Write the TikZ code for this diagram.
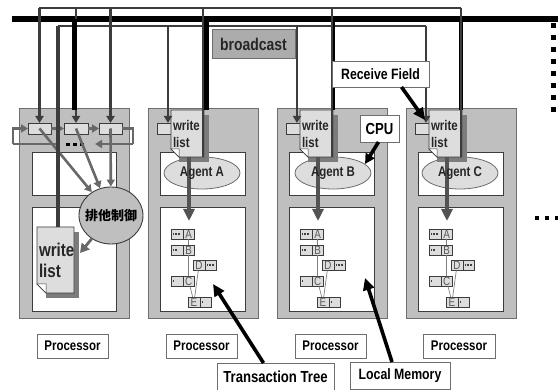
\documentclass[tikz,border=0pt]{standalone}
\usepackage{fontspec}
\setmainfont[FakeStretch=.82]{Liberation Sans}
\newfontfamily\cjkfont{Noto Sans CJK JP}
\usetikzlibrary{arrows.meta,shapes.geometric}
\definecolor{procgray}{HTML}{BFBFBF}
\definecolor{edgegray}{HTML}{6E6E6E}
\definecolor{wiregray}{HTML}{3C3C3C}
\definecolor{flowgray}{HTML}{686868}
\definecolor{pagegray}{HTML}{DDDDDD}
\definecolor{shadegray}{HTML}{7C7C7C}
\tikzset{
  procbox/.style={draw=edgegray,fill=procgray,line width=1pt},
  membox/.style={draw=wiregray,fill=white,line width=.9pt},
  fieldbox/.style={draw=wiregray,fill=pagegray,line width=.8pt},
  labelbox/.style={draw=edgegray,fill=white,line width=.9pt,font={\fontsize{14}{16}\selectfont\bfseries}},
  pagetext/.style={align=left,text=black!85,font={\fontsize{14}{17}\selectfont\bfseries}},
  agentbox/.style={ellipse,draw=edgegray,fill=pagegray,line width=.8pt,inner sep=0pt,minimum width=76pt,minimum height=32pt},
  wire/.style={draw=wiregray,line width=2.3pt},
  thickwire/.style={draw=black,line width=4.5pt},
  tipin/.style={-{Triangle[length=7pt,width=8pt]}},
  flow/.style={draw=flowgray,line width=2.4pt,-{Triangle[length=7pt,width=8pt]}},
  feed/.style={draw=flowgray!80!black,line width=3.8pt,-{Triangle[length=12pt,width=11pt]}},
  callout/.style={draw=black,line width=3.6pt,-{Triangle[length=12pt,width=11pt]}},
  treeline/.style={draw=gray,line width=.7pt},
  treecell/.style={draw=wiregray,fill=pagegray,line width=.7pt,text=black!65,font={\fontsize{12}{12}\selectfont}}
}
\newcommand{\rect}[7][]{
  \node [inner sep=0pt,outer sep=0pt,minimum width={((#5)-(#3))*1pt},minimum height={((#6)-(#4))*1pt},#1] (#2) at ({((#3)+(#5))/2},{((#4)+(#6))/2}) {#7};
}
\newcommand{\wlist}[8]{
  \fill [shadegray] ({#2+#6},{#3+#7}) rectangle ({#4+#7},{#5+#7});
  \draw [draw=wiregray,fill=pagegray,line width=.8pt] (#2,#3) -- (#4,#3) -- (#4,#5) -- ({#2+#6},#5) -- (#2,{#5-#6}) -- cycle;
  \draw [draw=wiregray,fill=white,line width=.5pt] (#2,{#5-#6}) -- ({#2+#6},{#5-#6}) -- ({#2+#6},#5) -- cycle;
  \rect[pagetext,#8]{#1}{#2}{#3}{#4}{#5}{write\\list}
}
\newcommand{\cellL}[5]{
  \rect[treecell]{#1s}{#2}{#3}{#2+12}{#3+10.5}{}
  \rect[treecell]{#1}{#2+12}{#3}{#2+23.5}{#3+10.5}{#4}
  \foreach \k in {1,...,#5}{\fill [black!75] ({#2+2.7*\k-1},{#3+4.5}) rectangle ++(1.7,1.7);}
}
\newcommand{\cellR}[5]{
  \rect[treecell]{#1s}{#2+12}{#3}{#2+23.5}{#3+10.5}{}
  \rect[treecell]{#1}{#2}{#3}{#2+12}{#3+10.5}{#4}
  \foreach \k in {1,...,#5}{\fill [black!75] ({#2+11+2.7*\k},{#3+4.5}) rectangle ++(1.7,1.7);}
}
\begin{document}
\begin{tikzpicture}[x=1pt,y=-1pt]
  \useasboundingbox (0,0) rectangle (558,390);
  \coordinate (upL) at (39,8);
  \coordinate (upR) at (461,8);
  \coordinate (midL) at (58,26);
  \coordinate (midR) at (426,26);
  \coordinate (busL) at (12,19);
  \coordinate (busR) at (558,19);
  \rect[procbox]{proc0}{19}{109}{129}{319}{}
  \rect[membox]{cpu0}{32}{152}{116}{195}{}
  \rect[membox]{mem0}{32}{207}{116}{311}{}
  \foreach \n/\dx/\ax in {1/0/202,2/129/333,3/258/460}{
    \begin{scope}[xshift=\dx pt]
      \rect[procbox]{proc\n}{148}{109}{258}{319}{}
      \rect[membox]{cpu\n}{160}{152}{245}{195}{}
      \rect[membox]{mem\n}{160}{207}{245}{311}{}
      \rect[fieldbox]{field\n}{157}{123}{171}{134}{}
      \cellL{A\n}{171}{229}{A}{3}
      \cellL{B\n}{171}{245}{B}{2}
      \cellR{D\n}{193}{260}{D}{3}
      \cellL{C\n}{171}{276}{C}{1}
      \cellR{E\n}{188}{297}{E}{1}
      \draw [treeline] (A\n) -- (B\n) -- (C\n);
      \draw [treeline] (C\n) -- (E\n);
      \draw [treeline] (D\n) -- (E\n);
      \coordinate (tip\n) at (189,221);
    \end{scope}
    \node [agentbox] (agent\n) at (\ax,173) {};
    \begin{scope}[xshift=\dx pt]
      \wlist{page\n}{171}{110}{204}{157}{8}{5}{text width=29pt}
      \draw [feed] (tip\n |- page\n.south) -- (tip\n);
    \end{scope}
    \path (agent\n) node [font={\fontsize{14}{15}\selectfont\bfseries},text=black!85] (name\n) {Agent \ifcase\n\or A\or B\or C\fi};
  }
  \draw [thickwire,line width=6pt] (busL) -- (busR);
  \draw [wire] (upL) -- (upR);
  \draw [wire,line width=2.8pt] (midL) -- (midR);
  \foreach \k/\xa/\xb in {a/28/51,b/64/88,c/99/122}{
    \rect[fieldbox]{recv\k}{\xa}{123}{\xb}{134}{}
    \draw [wire,tipin] (recv\k.north |- upL) -- (recv\k.north);
  }
  \draw [thickwire] (74.5,19) -- (74.5,110);
  \draw [flow] (recva) -- (recvb);
  \draw [flow] (recvb) -- (recvc);
  \coordinate (loopL) at (13,144);
  \coordinate (loopR) at (133,144);
  \coordinate (loopM) at (58,144);
  \coordinate (loopT) at (95,144);
  \draw [flow,-] (loopM) -- (loopL);
  \draw [flow] (loopL) |- (recva.west);
  \draw [flow,-] (recvc.east) -| (loopR);
  \draw [flow] (loopR) -- (loopT);
  \foreach \d in {0,7,14}{\fill (66+\d,143) rectangle ++(3.5,3.5);}
  \node [ellipse,draw=wiregray,fill=procgray,line width=.9pt,minimum width=64pt,minimum height=57pt,inner sep=0pt] (excl) at (111,215.5) {};
  \foreach \k in {a,b,c}{\draw [flow,line width=2.6pt] (recv\k.center) -- (excl);}
  \wlist{pageBig}{37}{227}{74}{293}{9}{5}{text width=33pt,font={\fontsize{18.5}{21}\selectfont\bfseries}}
  \coordinate (pageTip) at (80,253);
  \draw [flow,line width=2.8pt,-{Triangle[length=9pt,width=10pt]}] (excl) -- (pageTip);
  \draw [wire,line width=3.4pt] (midL) -- (midL |- pageBig.north);
  \node [font={\fontsize{13}{14}\selectfont\cjkfont\bfseries},text=black] (exclName) at (excl) {排他制御};
  \foreach \n/\wx/\tx/\gx/\tw in {1/168/203/206/5.5,2/297/332/332.5/4,3/426/461/461/4}{
    \coordinate (w\n) at (\wx,26);
    \coordinate (t\n) at (\tx,8);
    \coordinate (g\n) at (\gx,20);
    \draw [thickwire,line width=\tw pt] (g\n) -- (g\n |- page\n.north);
    \draw [wire] (t\n) -- (t\n |- page\n.south);
    \draw [wire,tipin] (w\n) -- (\wx,123);
  }
  \rect[draw=edgegray,fill=procgray!90!black,line width=1pt,font={\fontsize{17}{18}\selectfont\bfseries},text=black!85]{cast}{212}{30}{295}{59}{broadcast}
  \rect[labelbox,font={\fontsize{15}{16}\selectfont\bfseries}]{recvLabel}{332}{61}{429}{87}{Receive Field}
  \rect[labelbox,font={\fontsize{16}{16}\selectfont\bfseries}]{cpuLabel}{360}{115}{399}{142}{CPU}
  \rect[labelbox]{proclabel0}{37}{334}{108}{358}{Processor}
  \rect[labelbox]{proclabel1}{166}{334}{237}{358}{Processor}
  \rect[labelbox]{proclabel2}{295}{334}{366}{358}{Processor}
  \rect[labelbox]{proclabel3}{423}{334}{495}{358}{Processor}
  \rect[labelbox,font={\fontsize{16}{16}\selectfont\bfseries}]{treeLabel}{217}{363}{334}{390}{Transaction Tree}
  \rect[labelbox,font={\fontsize{15}{16}\selectfont\bfseries}]{memLabel}{350}{362}{450}{389}{Local Memory}
  \coordinate (recvTip) at (425,120);
  \coordinate (cpuTip) at (365,164);
  \coordinate (treeTip) at (213,284);
  \coordinate (memTip) at (365,278);
  \draw [callout] ([xshift=21pt]recvLabel.south) -- (recvTip);
  \draw [callout,-{Triangle[length=10pt,width=10pt]}] ([xshift=-1pt]cpuLabel.south) -- (cpuTip);
  \draw [callout] ([xshift=-12pt]treeLabel.north) -- (treeTip);
  \draw [callout] ([xshift=-8pt]memLabel.north) -- (memTip);
  \foreach \y in {0,...,7}{\fill (550.5,{23+12*\y}) rectangle ++(5,5);}
  \foreach \x in {535,545,555}{\fill (\x,216.5) rectangle ++(3.5,3.5);}
\end{tikzpicture}
\end{document}
